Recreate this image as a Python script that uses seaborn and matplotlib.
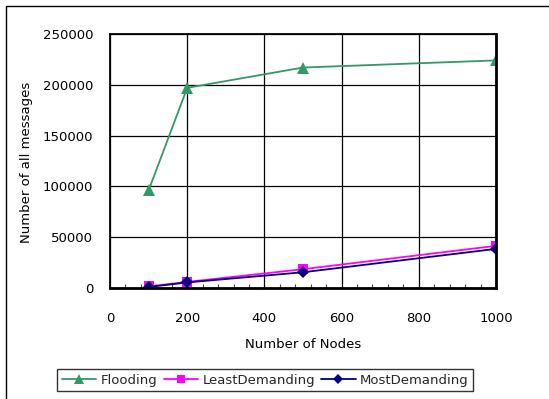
import matplotlib
matplotlib.use("Agg")
import matplotlib.pyplot as plt
from matplotlib.patches import Rectangle
from matplotlib.ticker import MultipleLocator
import numpy as np
import pandas as pd
import seaborn as sns

# Message counts per network size
nodes = [100, 200, 500, 1000]
flooding = [96000, 197000, 217000, 224000]
least_demanding = [1500, 6000, 18500, 41500]
most_demanding = [1000, 5500, 15500, 38500]
series_names = ["Flooding", "LeastDemanding", "MostDemanding"]

x_ticks = [0, 200, 400, 600, 800, 1000]
y_ticks = [0, 50000, 100000, 150000, 200000, 250000]

df = pd.DataFrame({
    "nodes": nodes * 3,
    "messages": flooding + least_demanding + most_demanding,
    "method": [series_names[0]] * 4 + [series_names[1]] * 4 + [series_names[2]] * 4,
})

sns.set_theme(style="white")
plt.rcParams["font.family"] = ["DejaVu Sans"]

palette = {"Flooding": "#339966", "LeastDemanding": "#FF00FF", "MostDemanding": "#000080"}
markers = {"Flooding": "^", "LeastDemanding": "s", "MostDemanding": "D"}
sizes = {"Flooding": 8.5, "LeastDemanding": 7, "MostDemanding": 6}

fig = plt.figure(figsize=(5.49, 3.99), dpi=100)
ax = fig.add_axes([110 / 549, 1 - 288 / 399, 386 / 549, 254 / 399])

sns.lineplot(data=df, x="nodes", y="messages", hue="method", style="method",
             palette=palette, markers=markers, dashes=False, ax=ax,
             legend=False, linewidth=1.3, markeredgewidth=0)

# per-series marker sizes
for line, name in zip(ax.get_lines(), series_names):
    line.set_markersize(sizes[name])

ax.set_xlim(0, 1000)
ax.set_ylim(0, 250000)
ax.set_xticks(x_ticks)
ax.set_yticks(y_ticks)
ax.xaxis.set_minor_locator(MultipleLocator(40))
ax.grid(True, which="major", color="black", linewidth=0.9)
ax.tick_params(axis="x", which="major", length=0, pad=17, labelsize=9.5, colors="black")
ax.tick_params(axis="y", which="major", length=0, pad=12, labelsize=9.5, colors="black")
ax.tick_params(axis="x", which="minor", direction="in", length=3, width=0.8,
               color="#444444", bottom=True)
for side in ["left", "top", "right", "bottom"]:
    ax.spines[side].set_color("black")
    ax.spines[side].set_linewidth(1.3)
ax.spines["bottom"].set_linewidth(2.0)
ax.spines["right"].set_linewidth(2.0)

ax.set_xlabel("Number of Nodes", fontsize=9.5, color="black")
ax.set_ylabel("Number of all messages", fontsize=9.5, color="black")
ax.xaxis.set_label_coords(0.5, -0.197)
ax.yaxis.set_label_coords(-0.2, 0.496)

handles = [
    plt.Line2D([], [], color=palette[n], marker=markers[n], markersize=sizes[n] - 1,
               markeredgewidth=0, linewidth=1.3, label=n)
    for n in series_names
]
leg = fig.legend(handles=handles, loc="center", bbox_to_anchor=(0.4836, 0.0476),
                 ncol=3, frameon=True, fancybox=False, edgecolor="black",
                 fontsize=9.5, handlelength=2.6, columnspacing=0.45,
                 handletextpad=0.35, borderpad=0.35, borderaxespad=0.2)
leg.get_frame().set_linewidth(1.0)

# outer chart frame
fig.patches.append(Rectangle((6 / 549, -0.1), 1.1, 1 - 6 / 399 + 0.1,
                             transform=fig.transFigure, fill=False,
                             edgecolor="black", linewidth=1.0))

fig.savefig("out.png", dpi=100, facecolor="white")
